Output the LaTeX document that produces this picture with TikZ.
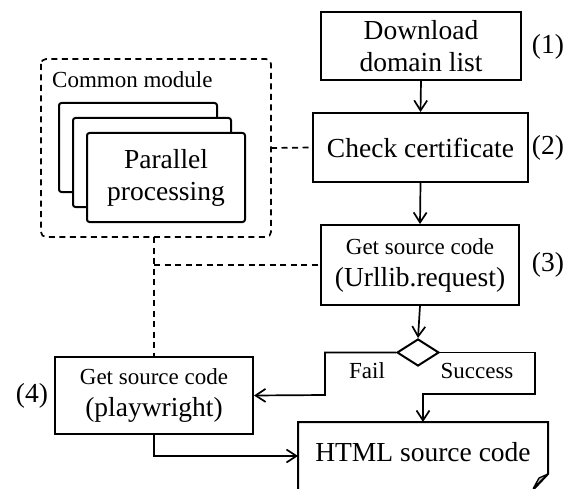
\documentclass[tikz,border=0pt]{standalone}
\usepackage{fontspec}
\setmainfont{Liberation Serif}
\usetikzlibrary{arrows.meta,shapes.geometric}

\tikzset{
  every picture/.style={x=1pt,y=-1pt},
  stepbox/.style={draw,line width=2pt,rectangle,inner sep=0pt,align=center,
                  font=\fontsize{27.5}{32}\selectfont},
  card/.style={draw,line width=2pt,rounded corners=2.5pt,fill=white},
  flow/.style={line width=1.7pt,-{Straight Barb[length=10pt,width=13pt,line width=1.7pt]}},
  tie/.style={line width=1.7pt,dash pattern=on 6pt off 4.5pt},
  big/.style={font=\fontsize{27.5}{32}\selectfont},
  small/.style={font=\fontsize{23}{27}\selectfont},
}

\begin{document}
\begin{tikzpicture}
\useasboundingbox (0,0) rectangle (575,489);

% common module with stacked worker cards
\draw[tie,rounded corners=5pt] (41,59) rectangle (271,237);
\node[small,anchor=west,inner sep=0pt] (cmtitle) at (52,80) {Common module};
\coordinate (cmR) at (271,148);
\coordinate (cmB) at (154,237);
\draw[card] (59,103) rectangle (217,192);
\draw[card] (73,118) rectangle (231,207);
\draw[card] (87,133) rectangle (245,222);
\node[big,align=center] (par) at (166,178) {Parallel\\processing};

% main pipeline
\node[stepbox,minimum width=200pt,minimum height=68pt] (dl) at (421,46) {Download\\domain list};
\node[stepbox,minimum width=215pt,minimum height=69pt] (cc) at (420.5,147.5) {Check certificate};
\node[stepbox,minimum width=198pt,minimum height=80pt] (gs) at (420,265)
  {{\fontsize{23}{27}\selectfont Get source code}\\(Urllib.request)};
\node[draw,line width=2pt,diamond,inner sep=0pt,minimum width=42pt,minimum height=27pt] (dia) at (418,352.5) {};
\node[stepbox,minimum width=198pt,minimum height=77pt] (pw) at (154,395.5)
  {{\fontsize{23}{27}\selectfont Get source code}\\(playwright)};

% step numbers
\node[big] (n1) at (548,47) {(1)};
\node[big] (n2) at (548,148) {(2)};
\node[big] (n3) at (548,265) {(3)};
\node[big] (n4) at (32,396) {(4)};

% result document with folded corner
\coordinate (htmlN) at (423,422);
\coordinate (htmlW) at (298,456);
\draw[line width=2pt,line join=miter] (298,495) -- (298,422) -- (548,422) -- (548,474) -- (531,492);
\draw[line width=1.3pt,line join=round,fill=gray!55] (548,474) -- (539,478) -- (533.5,488) -- cycle;
\node[big] (html) at (423,452) {HTML source code};

% flow
\draw[flow] (dl.south) -- (cc.north);
\draw[flow] (cc.south) -- (gs.north);
\draw[flow] (gs.south) -- (dia.north);
\draw[flow] (dia.west) -- (325,352.5) -- (325,395) -- (pw.east);
\draw[flow] (dia.east) -- (535,352.5) -- (535,394) -- (423,394) -- (htmlN);
\draw[flow] (pw.south) -- (154,456) -- (htmlW);
\node[small] (fail) at (367,371) {Fail};
\node[small] (succ) at (477,371) {Success};

% shared-module ties
\draw[tie] (cmR) -- (cc.west);
\draw[tie] (cmB) -- (pw.north);
\draw[tie] (154,265) -- (gs.west);
\end{tikzpicture}
\end{document}
